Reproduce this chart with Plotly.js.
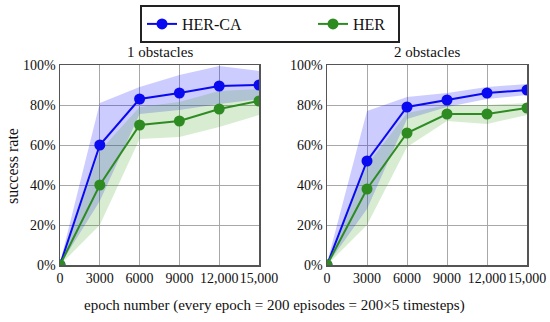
<!DOCTYPE html>
<html><head><meta charset="utf-8">
<script src="https://cdn.plot.ly/plotly-3.0.1.min.js"></script>
<style>html,body{margin:0;padding:0;background:#fff}#chart{width:550px;height:322px}</style>
</head><body><div id="chart"></div>
<script>
const epochs = [0, 3000, 6000, 9000, 12000, 15000];
const xTickLabels = ['0', '3000', '6000', '9000', '12,000', '15,000'];
const yTicks = [0, 20, 40, 60, 80, 100];
const yTickLabels = ['0%', '20%', '40%', '60%', '80%', '100%'];
const panelTitles = ['1 obstacles', '2 obstacles'];
const seriesNames = ['HER-CA', 'HER'];

// Panel 1: 1 obstacles (success rate, %)
const hercaMean1  = [0, 60, 83, 86, 89.5, 90];
const hercaUpper1 = [1, 81, 89, 95, 99.5, 97];
const hercaLower1 = [0, 32, 75.5, 77.5, 80.5, 83];
const herMean1    = [0, 40, 70, 72, 78, 82];
const herUpper1   = [1, 57, 79, 81.5, 87, 88];
const herLower1   = [0, 20, 63, 64, 69, 75];

// Panel 2: 2 obstacles (success rate, %)
const hercaMean2  = [0, 52, 79, 82.5, 86, 87.5];
const hercaUpper2 = [1, 77, 84, 86, 89, 90.5];
const hercaLower2 = [0, 28, 73, 79, 83, 85];
const herMean2    = [0, 38, 66, 75.5, 75.5, 78.5];
const herUpper2   = [1, 50, 76, 80, 80, 81];
const herLower2   = [0, 20, 59, 72, 70.5, 75];

const blue = '#0a0af0', green = '#2e8b22';
const blueFill = 'rgba(0,0,255,0.2)', greenFill = 'rgba(60,160,30,0.2)';
const FONT = 'Liberation Serif';

function band(x, up, lo, color, xa, ya) {
  return {x: x.concat(x.slice().reverse()), y: up.concat(lo.slice().reverse()),
    fill: 'toself', fillcolor: color, line: {width: 0}, mode: 'lines',
    hoverinfo: 'skip', showlegend: false, xaxis: xa, yaxis: ya};
}
function line(x, y, color, name, xa, ya, show, lw) {
  return {x: x, y: y, mode: 'lines+markers', name: name,
    line: {color: color, width: 2}, marker: {color: color, size: 11},
    showlegend: show, legendwidth: lw, xaxis: xa, yaxis: ya};
}

const data = [
  band(epochs, hercaUpper1, hercaLower1, blueFill, 'x', 'y'),
  band(epochs, herUpper1, herLower1, greenFill, 'x', 'y'),
  band(epochs, hercaUpper2, hercaLower2, blueFill, 'x2', 'y2'),
  band(epochs, herUpper2, herLower2, greenFill, 'x2', 'y2'),
  line(epochs, hercaMean1, blue, seriesNames[0], 'x', 'y', true, 126),
  line(epochs, herMean1, green, seriesNames[1], 'x', 'y', true, 40),
  line(epochs, hercaMean2, blue, seriesNames[0], 'x2', 'y2', false),
  line(epochs, herMean2, green, seriesNames[1], 'x2', 'y2', false)
];

const W = 550, H = 322;
const yDom = [(H - 265) / H, (H - 65) / H];
function xaxis(dom) {
  return {domain: dom, range: [0, 15000], tickmode: 'array', tickvals: epochs, ticktext: xTickLabels,
    tickangle: 0, showgrid: true, gridcolor: '#a8a8a8', gridwidth: 1, zeroline: false,
    showline: true, mirror: true, linecolor: '#555', linewidth: 1.5, ticks: '',
    tickfont: {family: FONT, size: 14, color: '#111'}, fixedrange: true};
}
function yaxis(anchor) {
  return {domain: yDom, range: [0, 100], tickmode: 'array', tickvals: yTicks, ticktext: yTickLabels,
    showgrid: true, gridcolor: '#a8a8a8', gridwidth: 1, zeroline: false, anchor: anchor,
    showline: true, mirror: true, linecolor: '#555', linewidth: 1.5, ticks: '',
    tickfont: {family: FONT, size: 14, color: '#111'}, fixedrange: true};
}
function ann(text, px, py, size, angle) {
  return {text: text, x: px / W, y: 1 - py / H, xref: 'paper', yref: 'paper', showarrow: false,
    xanchor: 'center', yanchor: 'middle', textangle: angle || 0,
    font: {family: FONT, size: size, color: '#111'}};
}

const layout = {
  width: W, height: H, margin: {l: 0, r: 0, t: 0, b: 0},
  paper_bgcolor: '#fff', plot_bgcolor: '#fff',
  font: {family: FONT, size: 14, color: '#111'},
  xaxis: xaxis([60 / W, 259 / W]),
  yaxis: yaxis('x'),
  xaxis2: Object.assign(xaxis([327 / W, 527 / W]), {anchor: 'y2'}),
  yaxis2: yaxis('x2'),
  showlegend: true,
  legend: {orientation: 'h', x: 140 / W, xanchor: 'left', y: 1 - 5 / H, yanchor: 'top',
    bordercolor: '#222', borderwidth: 2, bgcolor: '#fff',
    font: {family: FONT, size: 16, color: '#111'}},
  annotations: [
    ann(panelTitles[0], 160, 52, 15),
    ann(panelTitles[1], 427, 52, 15),
    ann('success rate', 12, 166, 16, -90),
    ann('epoch number (every epoch = 200 episodes = 200×5 timesteps)', 274, 305, 15)
  ]
};

Plotly.newPlot('chart', data, layout, {displayModeBar: false, staticPlot: true});
</script></body></html>
